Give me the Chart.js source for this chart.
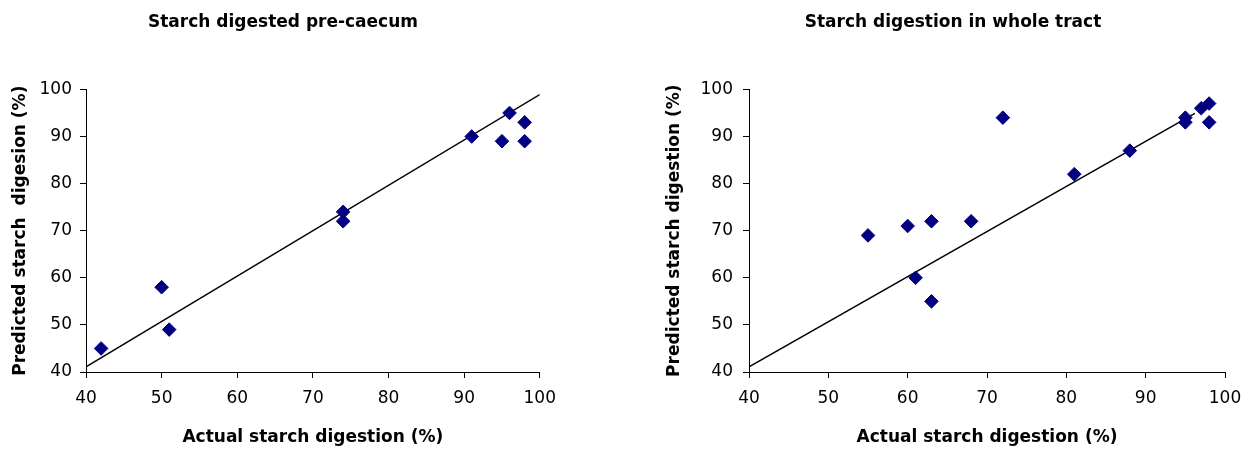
<!DOCTYPE html>
<html>
<head>
<meta charset="utf-8">
<script src="https://cdn.jsdelivr.net/npm/chart.js@4.4.0/dist/chart.umd.min.js"></script>
<style>
body { margin: 0; background: #fff; width: 1256px; height: 452px; overflow: hidden; position: relative; }
canvas { position: absolute; top: 0; }
#left { left: 0; }
#right { left: 650px; }
</style>
</head>
<body>
<canvas id="left" width="566" height="452"></canvas>
<canvas id="right" width="606" height="452"></canvas>
<script>
// DATA
const axisTicks = [40, 50, 60, 70, 80, 90, 100];

const preActual    = [42, 50, 51, 74, 74, 91, 95, 96, 98, 98];
const prePredicted = [45, 58, 49, 74, 72, 90, 89, 95, 93, 89];
const preTrendX = [40, 100];
const preTrendY = [41.1, 98.9];

const wholeActual    = [55, 60, 61, 63, 63, 68, 72, 81, 88, 95, 95, 97, 98, 98];
const wholePredicted = [69, 71, 60, 72, 55, 72, 94, 82, 87, 94, 93, 96, 97, 93];
const wholeTrendX = [40, 96.2];
const wholeTrendY = [41.1, 94.9];

Chart.defaults.font.family = "'DejaVu Sans', sans-serif";
Chart.defaults.color = '#000';

function toPoints(xs, ys) {
	return xs.map((x, i) => ({x: x, y: ys[i]}));
}

function axis(titleText, titlePad, tickPad, fitSize, horizontal) {
	return {
		type: 'linear',
		min: 40,
		max: 100,
		afterBuildTicks: s => { s.ticks = axisTicks.map(v => ({value: v})); },
		afterFit: s => {
			if (horizontal) s.height = fitSize;
			else s.width = fitSize;
		},
		grid: { drawOnChartArea: false, drawTicks: true, tickLength: 6, color: '#000', lineWidth: 1 },
		border: { display: true, color: '#000', width: 1 },
		ticks: { font: { size: 17 }, color: '#000', padding: tickPad, maxRotation: 0, autoSkip: false },
		title: { display: true, text: titleText, color: '#000', font: { size: 17, weight: 'bold' }, padding: titlePad }
	};
}

// empty axis on the right, only to hold space so the title stays centred on the canvas
function spacer(size) {
	return {
		type: 'linear',
		position: 'right',
		min: 40,
		max: 100,
		grid: { display: false, drawTicks: false },
		border: { display: false },
		ticks: { display: false },
		afterFit: s => { s.width = size; }
	};
}

function makeChart(id, titleText, yTitle, actual, predicted, trendX, trendY, yWidth, yTitlePad, yTickPad, rightPad) {
	const ctx = document.getElementById(id).getContext('2d');
	return new Chart(ctx, {
		type: 'scatter',
		data: {
			datasets: [{
				data: toPoints(actual, predicted),
				pointStyle: 'rectRot',
				pointRadius: 6.8,
				pointBorderWidth: 1,
				backgroundColor: '#000080',
				borderColor: '#000080',
				showLine: false
			}, {
				data: toPoints(trendX, trendY),
				showLine: true,
				borderColor: '#000',
				borderWidth: 1.5,
				pointRadius: 0,
				fill: false
			}]
		},
		options: {
			responsive: false,
			animation: false,
			devicePixelRatio: 1,
			layout: { padding: 0 },
			plugins: {
				legend: { display: false },
				tooltip: { enabled: false },
				title: {
					display: true,
					text: titleText,
					color: '#000',
					font: { size: 17, weight: 'bold' },
					padding: { top: 12, bottom: 57 }
				}
			},
			scales: {
				x: axis('Actual starch digestion (%)', { top: 0, bottom: 4 }, 10, 80, true),
				y: axis(yTitle, { top: yTitlePad, bottom: 0 }, yTickPad, yWidth, false),
				y2: spacer(rightPad)
			}
		}
	});
}

// LEFT CHART
makeChart('left', 'Starch digested pre-caecum', 'Predicted starch  digesion (%)',
	preActual, prePredicted, preTrendX, preTrendY, 86, 10, 8, 25);

// RIGHT CHART
makeChart('right', 'Starch digestion in whole tract', 'Predicted starch digestion (%)',
	wholeActual, wholePredicted, wholeTrendX, wholeTrendY, 99, 14, 10, 31);
</script>
</body>
</html>
